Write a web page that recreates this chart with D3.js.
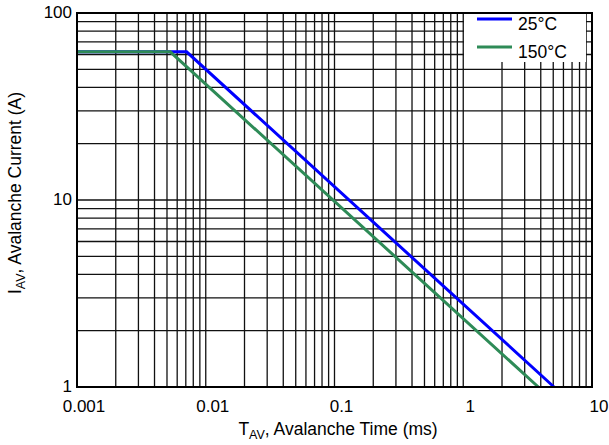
<!DOCTYPE html>
<html><head><meta charset="utf-8">
<script src="https://cdn.jsdelivr.net/npm/d3@7"></script>
<style>body{margin:0;background:#fff}svg{display:block;font-family:"Liberation Sans",Arial,sans-serif}</style>
</head><body><svg id="c" width="609" height="445"></svg>
<script>
const xTicks = [0.001, 0.01, 0.1, 1, 10];
const xTickLabels = ["0.001", "0.01", "0.1", "1", "10"];
const yTicks = [1, 10, 100];
const yTickLabels = ["1", "10", "100"];
const seriesNames = ["25°C", "150°C"];
const seriesColors = ["#0000ff", "#2e8b57"];
const time25 = [0.001, 0.0071, 5.07];
const current25 = [62, 62, 1];
const time150 = [0.001, 0.0053, 3.83];
const current150 = [62, 62, 1];

const svg = d3.select("#c");
const m = {l: 77, r: 17, t: 13, b: 58};
const W = 609, H = 445;
const x = d3.scaleLog().domain([0.001, 10]).range([m.l, W - m.r]);
const y = d3.scaleLog().domain([1, 100]).range([H - m.b, m.t]);

// grid
const xg = [], yg = [];
for (let d = 0.001; d < 10; d *= 10) for (let k = 1; k <= 9; k++) xg.push(+(d * k).toPrecision(3));
for (let d = 1; d < 100; d *= 10) for (let k = 1; k <= 9; k++) yg.push(d * k);
const g = svg.append("g");
g.selectAll("line.v").data(xg).join("line").attr("x1", d => x(d)).attr("x2", d => x(d))
  .attr("y1", m.t).attr("y2", H - m.b).attr("stroke", "#111").attr("stroke-width", 1.3);
g.selectAll("line.h").data(yg).join("line").attr("y1", d => y(d)).attr("y2", d => y(d))
  .attr("x1", m.l).attr("x2", W - m.r).attr("stroke", "#111").attr("stroke-width", 1.3);

// series
const s25 = time25.map((t, i) => [t, current25[i]]);
const s150 = time150.map((t, i) => [t, current150[i]]);
const line = d3.line().x(d => x(d[0])).y(d => y(d[1]));
[s25, s150].forEach((s, i) => {
  svg.append("path").datum(s).attr("d", line).attr("fill", "none")
    .attr("stroke", seriesColors[i]).attr("stroke-width", 3);
});

// frame
svg.append("rect").attr("x", m.l).attr("y", m.t).attr("width", W - m.r - m.l).attr("height", H - m.b - m.t)
  .attr("fill", "none").attr("stroke", "#000").attr("stroke-width", 2);

// legend
const lg = svg.append("g");
lg.append("rect").attr("x", 464).attr("y", 14).attr("width", 122).attr("height", 48).attr("fill", "#fff");
seriesNames.forEach((n, i) => {
  const yy = 19 + i * 28;
  lg.append("line").attr("x1", 477).attr("x2", 512).attr("y1", yy).attr("y2", yy)
    .attr("stroke", seriesColors[i]).attr("stroke-width", 3);
  lg.append("text").attr("x", 518).attr("y", yy + 11).attr("font-size", 17.5).text(n);
});

// axes labels
svg.selectAll("text.xt").data(xTicks).join("text").attr("x", d => x(d) + 7).attr("y", 412)
  .attr("text-anchor", "middle").attr("font-size", 17).text((d, i) => xTickLabels[i]);
svg.selectAll("text.yt").data(yTicks).join("text").attr("x", m.l - 5).attr("y", d => y(d) + 5)
  .attr("text-anchor", "end").attr("font-size", 17).text((d, i) => yTickLabels[i]);

const xt = svg.append("text").attr("x", 338).attr("y", 435).attr("text-anchor", "middle").attr("font-size", 17.5);
xt.append("tspan").text("T");
xt.append("tspan").attr("font-size", 12.5).attr("dy", 4).text("AV");
xt.append("tspan").attr("dy", -4).text(", Avalanche Time (ms)");

const yt = svg.append("text").attr("transform", "translate(21,193) rotate(-90)").attr("text-anchor", "middle").attr("font-size", 17.5);
yt.append("tspan").text("I");
yt.append("tspan").attr("font-size", 12.5).attr("dy", 4).text("AV");
yt.append("tspan").attr("dy", -4).text(", Avalanche Current (A)");
</script></body></html>
